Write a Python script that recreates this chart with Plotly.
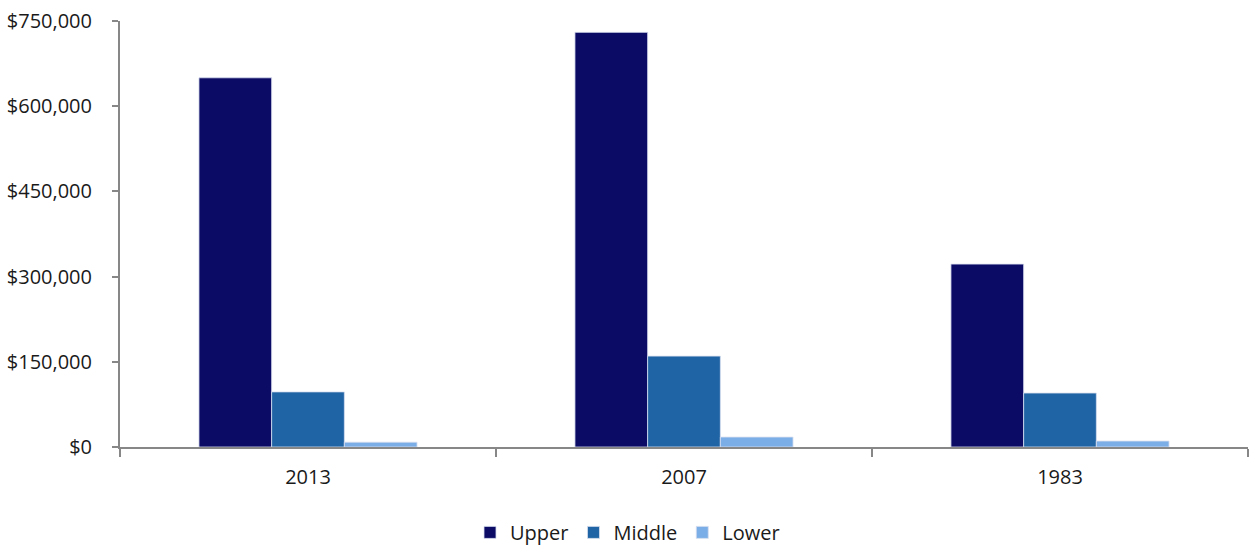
import plotly.graph_objects as go

categories = ["2013", "2007", "1983"]
upper = [650000, 730000, 322000]
middle = [97000, 160000, 95000]
lower = [8500, 17500, 10500]
series_names = ["Upper", "Middle", "Lower"]
colors = ["#0B0B65", "#1F64A4", "#7BAEE6"]
y_ticks = [0, 150000, 300000, 450000, 600000, 750000]
y_tick_labels = ["$0", "$150,000", "$300,000", "$450,000", "$600,000", "$750,000"]

fig = go.Figure()
for name, vals, col in zip(series_names, [upper, middle, lower], colors):
    fig.add_trace(go.Bar(
        x=categories, y=vals, name=name,
        marker=dict(color=col, line=dict(color="#D9E0F0", width=0.8)),
    ))

axis_col = "#878787"
fig.update_layout(
    width=1255, height=550,
    margin=dict(l=120, r=7, t=21, b=103, autoexpand=False),
    paper_bgcolor="white", plot_bgcolor="white",
    barmode="group", bargap=0.42, bargroupgap=0,
    font=dict(family="Open Sans, Noto Sans, sans-serif", size=19, color="#1a1a1a"),
    showlegend=True,
    legend=dict(orientation="h", x=0.5, xanchor="center", xref="container",
                y=0.032, yanchor="middle", yref="container",
                font=dict(size=20), itemwidth=30, traceorder="normal"),
    xaxis=dict(showline=True, linecolor=axis_col, linewidth=2, ticks="outside",
               tickson="boundaries", ticklen=8, tickcolor=axis_col, tickwidth=1.5,
               showgrid=False, zeroline=False, tickfont=dict(size=20),
               automargin=False, ticklabelstandoff=11),
    yaxis=dict(range=[0, 750000], tickvals=y_ticks, ticktext=y_tick_labels,
               showline=True, linecolor=axis_col, linewidth=2, ticks="outside",
               ticklen=6, tickcolor=axis_col, tickwidth=1.5, showgrid=False,
               zeroline=False, tickfont=dict(size=20), automargin=False,
               ticklabelstandoff=16),
)

fig.write_html("out.html", config={"displayModeBar": False},
               post_script="document.body.style.margin='0';document.body.style.overflow='hidden';")
